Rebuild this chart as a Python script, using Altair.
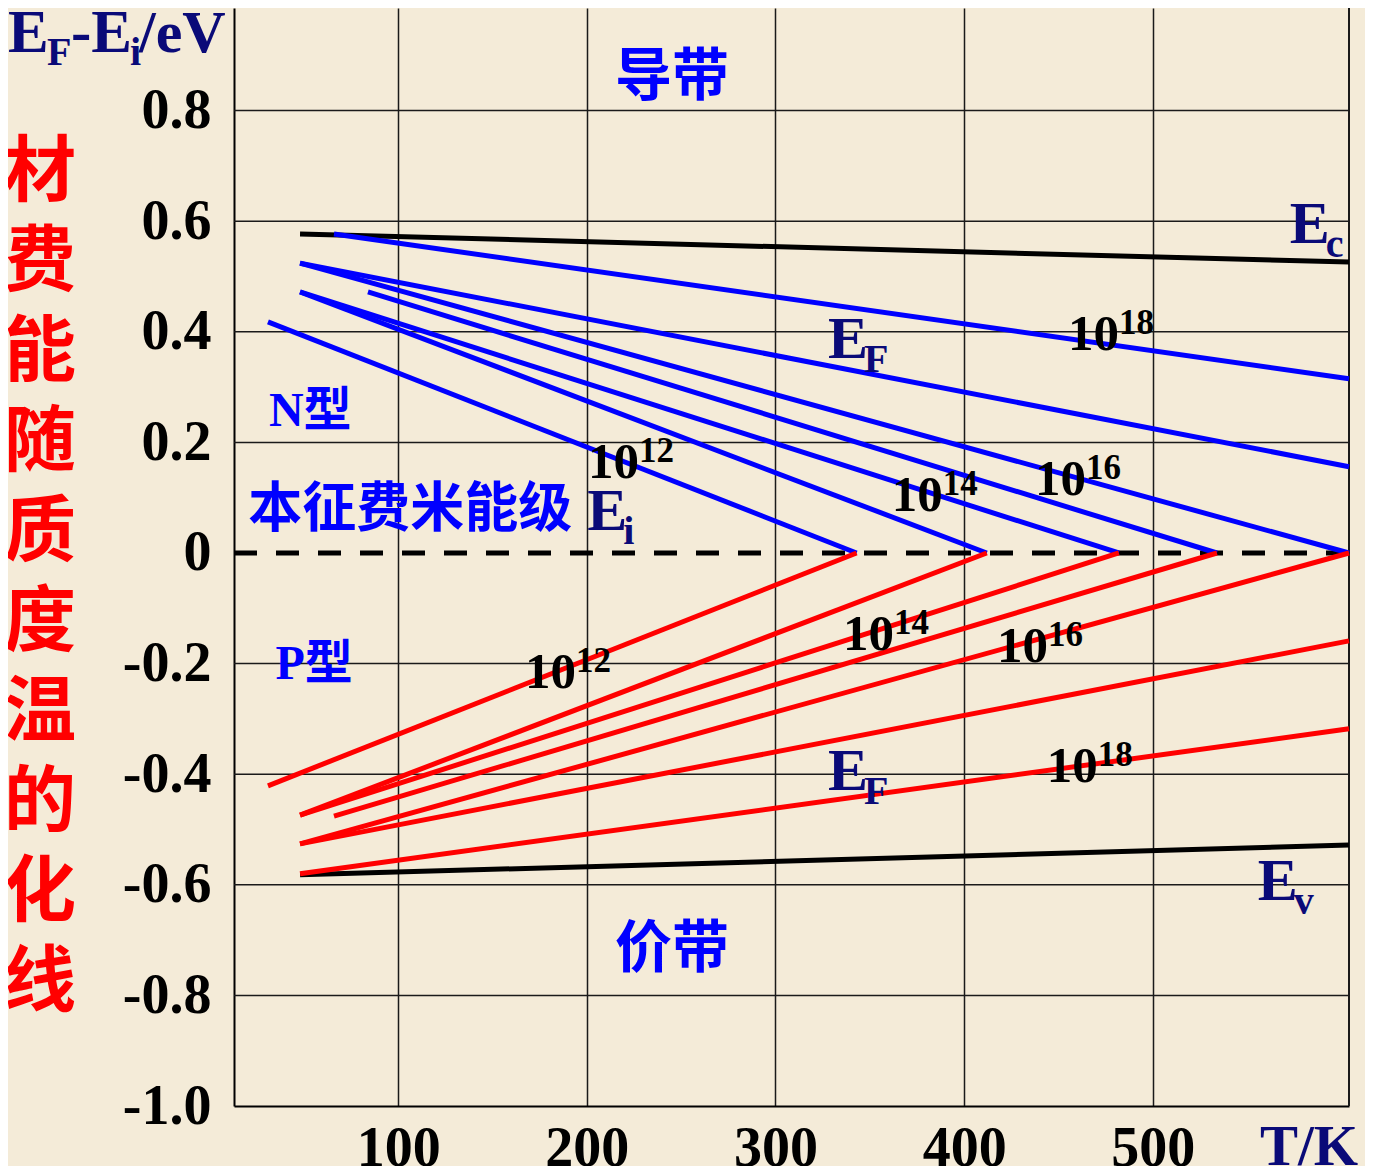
import altair as alt
import pandas as pd

SERIF = "Liberation Serif"
CJK = "Noto Sans CJK SC"
NAVY = "#0a0a78"
BLUE = "#0000ff"
RED = "#ff0000"

# ---- axis ranges / ticks ----
T_DOMAIN = [13, 604]
E_DOMAIN = [-1.0, 0.9855]
x_ticks = [100, 200, 300, 400, 500]
y_ticks = [-1.0, -0.8, -0.6, -0.4, -0.2, 0.0, 0.2, 0.4, 0.6, 0.8]
grid_y = [-0.8, -0.6, -0.4, -0.2, 0.2, 0.4, 0.6, 0.8]
frame_T = [604]
intrinsic_E = [0.0]

# ---- band edges Ec / Ev (black) ----
band_T_start = [48, 48]
band_E_start = [0.577, -0.582]
band_T_end = [604, 604]
band_E_end = [0.526, -0.528]

# ---- N-type Fermi levels (blue) ----
n_T_start = [66, 48, 48, 84, 48, 48, 31]
n_E_start = [0.577, 0.524, 0.524, 0.472, 0.472, 0.472, 0.418]
n_T_end = [604, 604, 604, 534, 482, 412, 343]
n_E_end = [0.315, 0.156, 0.0, 0.0, 0.0, 0.0, 0.0]

# ---- P-type Fermi levels (red) ----
p_T_start = [48, 48, 48, 66, 48, 48, 31]
p_E_start = [-0.580, -0.526, -0.526, -0.476, -0.474, -0.474, -0.421]
p_T_end = [604, 604, 604, 534, 482, 412, 343]
p_E_end = [-0.318, -0.159, 0.0, 0.0, 0.0, 0.0, 0.0]

# ---- doping labels 10^n ----
pow_T = [200.7, 361.7, 437.5, 455.0, 167.3, 335.8, 417.4, 443.8]
pow_E = [0.136, 0.076, 0.105, 0.367, -0.244, -0.175, -0.197, -0.414]
pow_exp = ["12", "14", "16", "18", "12", "14", "16", "18"]

# ---- energy symbols ----
sym_T = [327.8, 327.8, 572.6, 555.6, 200.2]
sym_E = [0.353, -0.429, 0.561, -0.6275, 0.0416]
sym_sub = ["F", "F", "c", "v", "i"]

# ---- Chinese labels ----
band_lbl = ["导带", "价带"]
band_lbl_T = [245.2, 245.2]
band_lbl_E = [0.859, -0.718]
type_lbl = ["N型", "P型"]
type_lbl_T = [53.4, 55.5]
type_lbl_E = [0.255, -0.2025]
intr_lbl = ["本征费米能级"]
intr_lbl_T = [106.4]
intr_lbl_E = [0.076]
side_chars = ["材", "费", "能", "随", "质", "度", "温", "的", "化", "线"]

xs = alt.Scale(domain=T_DOMAIN, nice=False, zero=False)
ys = alt.Scale(domain=E_DOMAIN, nice=False, zero=False)
xaxis = alt.Axis(values=x_ticks, grid=True, gridColor="#1a1a1a", gridWidth=1.5,
                 ticks=False, domainColor="black", domainWidth=2,
                 labelFont=SERIF, labelFontSize=56, labelFontWeight="bold",
                 labelColor="black", labelPadding=15, labelFlush=False,
                 labelOverlap=False, title=None)
yaxis = alt.Axis(values=y_ticks, grid=False, ticks=False, domainColor="black",
                 domainWidth=2, labelFont=SERIF, labelFontSize=56,
                 labelFontWeight="bold", labelColor="black", labelPadding=23,
                 labelOverlap=False, labelFlush=False, title=None,
                 labelExpr="datum.value == 0 ? '0' : (datum.value < 0 ? '-' : '') + format(abs(datum.value), '.1f')")


def X(f):
    return alt.X(f, type="quantitative", scale=xs, axis=xaxis)


def Y(f):
    return alt.Y(f, type="quantitative", scale=ys, axis=yaxis)


def seg_df(t0, e0, t1, e1):
    return pd.DataFrame({"T": t0, "E": e0, "T2": t1, "E2": e1})


grid_h = alt.Chart(pd.DataFrame({"E": grid_y})).mark_rule(
    color="#1a1a1a", strokeWidth=1.5).encode(y=Y("E"))
frame = alt.Chart(pd.DataFrame({"T": frame_T})).mark_rule(
    color="#1a1a1a", strokeWidth=2).encode(x=X("T"))
zero_line = alt.Chart(pd.DataFrame({"E": intrinsic_E})).mark_rule(
    color="black", strokeWidth=5, strokeDash=[23, 19]).encode(y=Y("E"))


def seg_layer(df, color):
    return alt.Chart(df).mark_rule(color=color, strokeWidth=5).encode(
        x=X("T"), y=Y("E"), x2="T2", y2="E2")


bands = seg_layer(seg_df(band_T_start, band_E_start, band_T_end, band_E_end), "black")
nlines = seg_layer(seg_df(n_T_start, n_E_start, n_T_end, n_E_end), BLUE)
plines = seg_layer(seg_df(p_T_start, p_E_start, p_T_end, p_E_end), RED)

pow_df = pd.DataFrame({"T": pow_T, "E": pow_E, "exp": pow_exp})
ten = alt.Chart(pow_df).mark_text(font=SERIF, fontSize=51, fontWeight="bold",
                                  color="black", align="left",
                                  baseline="alphabetic").encode(
    x=X("T"), y=Y("E"), text=alt.value("10"))
expo = alt.Chart(pow_df).mark_text(font=SERIF, fontSize=35, fontWeight="bold",
                                   color="black", align="left",
                                   baseline="alphabetic", dx=51, dy=-16).encode(
    x=X("T"), y=Y("E"), text="exp:N")

sym_df = pd.DataFrame({"T": sym_T, "E": sym_E, "sub": sym_sub})
symE = alt.Chart(sym_df).mark_text(font=SERIF, fontSize=60, fontWeight="bold",
                                   color=NAVY, align="left",
                                   baseline="alphabetic").encode(
    x=X("T"), y=Y("E"), text=alt.value("E"))
symSub = alt.Chart(sym_df).mark_text(font=SERIF, fontSize=40, fontWeight="bold",
                                     color=NAVY, align="left",
                                     baseline="alphabetic", dx=36, dy=14).encode(
    x=X("T"), y=Y("E"), text="sub:N")


def cn_layer(labels, ts, es, size, font):
    df = pd.DataFrame({"T": ts, "E": es, "lbl": labels})
    return alt.Chart(df).mark_text(font=font, fontSize=size, fontWeight="bold",
                                   color=BLUE, align="center",
                                   baseline="middle").encode(
        x=X("T"), y=Y("E"), text="lbl:N")


cn_bands = cn_layer(band_lbl, band_lbl_T, band_lbl_E, 57, CJK)
cn_types = cn_layer(type_lbl, type_lbl_T, type_lbl_E, 48, SERIF + ", " + CJK)
cn_intr = cn_layer(intr_lbl, intr_lbl_T, intr_lbl_E, 54, CJK)


def free_text(txt, px, py, size, color=NAVY, font=SERIF, **kw):
    return alt.Chart(pd.DataFrame({"a": [0]})).mark_text(
        text=txt, font=font, fontSize=size, fontWeight="bold", color=color,
        align="left", baseline="alphabetic", **kw).encode(
        x=alt.value(px), y=alt.value(py))


title_parts = [
    free_text("E", -226, 44, 61),
    free_text("F", -187, 57, 40),
    free_text("-E", -163, 44, 61),
    free_text("i", -104, 57, 40),
    free_text("/eV", -95, 44, 60),
    free_text("T/K", 1026, 1157, 57),
]

side = alt.Chart(pd.DataFrame({"a": [0]})).mark_text(
    text=side_chars, font=CJK, fontSize=72, fontWeight="bold", color=RED,
    align="center", baseline="middle", lineHeight=90).encode(
    x=alt.value(-194), y=alt.value(165))

chart = alt.layer(
    grid_h, frame, zero_line, bands, nlines, plines,
    ten, expo, symE, symSub, cn_bands, cn_types, cn_intr, side, *title_parts
).properties(
    width=1115, height=1098,
    padding={"left": 226, "right": 16, "top": 0, "bottom": 60},
    autosize=alt.AutoSizeParams(type="none"),
).configure(background="#f4ebd8").configure_view(stroke=None)

chart.save("out.html", embed_options={"renderer": "svg", "actions": False})
